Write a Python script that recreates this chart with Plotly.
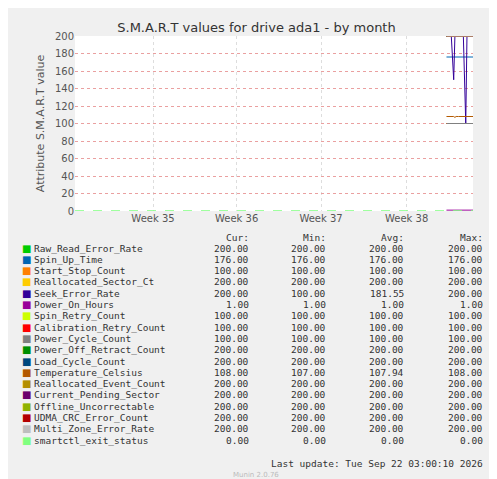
import plotly.graph_objects as go

names = ["Raw_Read_Error_Rate", "Spin_Up_Time", "Start_Stop_Count", "Reallocated_Sector_Ct",
         "Seek_Error_Rate", "Power_On_Hours", "Spin_Retry_Count", "Calibration_Retry_Count",
         "Power_Cycle_Count", "Power_Off_Retract_Count", "Load_Cycle_Count", "Temperature_Celsius",
         "Reallocated_Event_Count", "Current_Pending_Sector", "Offline_Uncorrectable",
         "UDMA_CRC_Error_Count", "Multi_Zone_Error_Rate", "smartctl_exit_status"]
colors = ["#00CC00", "#0066B3", "#FF8000", "#FFCC00", "#330099", "#990099", "#CCFF00", "#FF0000",
          "#808080", "#008F00", "#00487D", "#B35A00", "#B38F00", "#6B006B", "#8FB300", "#B30000",
          "#BEBEBE", "#80FF80"]
cur = [200, 176, 100, 200, 200, 1, 100, 100, 100, 200, 200, 108, 200, 200, 200, 200, 200, 0]
mn = [200, 176, 100, 200, 100, 1, 100, 100, 100, 200, 200, 107, 200, 200, 200, 200, 200, 0]
avg = [200, 176, 100, 200, 181.55, 1, 100, 100, 100, 200, 200, 107.94, 200, 200, 200, 200, 200, 0]
mx = [200, 176, 100, 200, 200, 1, 100, 100, 100, 200, 200, 108, 200, 200, 200, 200, 200, 0]

# time in days since start of the month view; data only in the last ~2 days
t = [30.8, 31.0, 31.2, 31.4, 31.5, 31.6, 31.8, 32.0, 32.2, 32.4, 32.5, 32.6, 32.8, 33.0]
seek = [200, 200, 200, 150, 200, 200, 200, 200, 200, 100, 200, 200, 200, 200]
temp = [108, 108, 108, 108, 107, 108, 108, 108, 108, 108, 108, 108, 108, 108]
full_t = [0, 33.0]

week_pos = [6.47, 13.4, 20.4, 27.5]
week_lbl = ["Week 35", "Week 36", "Week 37", "Week 38"]

fig = go.Figure()
for i, n in enumerate(names):
    if n == "smartctl_exit_status":
        fig.add_trace(go.Scatter(x=full_t, y=[0, 0], mode="lines",
                                 line=dict(color=colors[i], width=1.5, dash="dash")))
        continue
    if n == "Seek_Error_Rate":
        y = seek
    elif n == "Temperature_Celsius":
        y = temp
    else:
        y = [cur[i]] * len(t)
    fig.add_trace(go.Scatter(x=t, y=y, mode="lines", line=dict(color=colors[i], width=1)))

fig.update_layout(
    width=497, height=479, showlegend=False,
    paper_bgcolor="#F0F0F0", plot_bgcolor="white",
    margin=dict(l=67, r=32, t=28, b=276, autoexpand=False),
    font=dict(family="DejaVu Sans", size=10, color="#555555"),
    title=dict(text="S.M.A.R.T values for drive ada1 - by month", x=0.5, y=1 - 19 / 479,
               xref="container", yref="container", xanchor="center", yanchor="middle",
               font=dict(size=13, color="#333333")),
)
fig.update_xaxes(range=[0, 33.0], tickvals=week_pos, ticktext=week_lbl, showgrid=True,
                 gridcolor="#DDDDDD", griddash="dot", zeroline=False, showline=False,
                 ticks="", tickfont=dict(size=10))
fig.update_yaxes(range=[0, 200], dtick=20, showgrid=True, gridcolor="#EAA0A0", griddash="dot",
                 zeroline=False, ticks="", tickfont=dict(size=10),
                 title=dict(text="Attribute S.M.A.R.T value", font=dict(size=11), standoff=8))

mono = dict(family="DejaVu Sans Mono", size=9.5, color="#333333")
row0 = 240
dy = 11.3

def xp(px):
    return (px - 67) / 398

def yp(px):
    return (203 - px) / 175

for lbl, xr in [("Cur:", 243), ("Min:", 320), ("Avg:", 398), ("Max:", 477)]:
    fig.add_annotation(xref="paper", yref="paper", x=xp(xr), y=yp(229), text=lbl,
                       showarrow=False, xanchor="right", yanchor="middle", font=mono)
for i, n in enumerate(names):
    yy = yp(row0 + i * dy)
    fig.add_annotation(xref="paper", yref="paper", x=xp(12), y=yy, text="■",
                       showarrow=False, xanchor="left", yanchor="middle",
                       font=dict(size=10, color=colors[i]))
    fig.add_annotation(xref="paper", yref="paper", x=xp(24), y=yy, text=n,
                       showarrow=False, xanchor="left", yanchor="middle", font=mono)
    for vals, xr in [(cur, 243), (mn, 320), (avg, 398), (mx, 477)]:
        fig.add_annotation(xref="paper", yref="paper", x=xp(xr), y=yy,
                           text=f"{vals[i]:.2f}", showarrow=False, xanchor="right",
                           yanchor="middle", font=mono)

fig.add_annotation(xref="paper", yref="paper", x=xp(477), y=yp(455),
                   text="Last update: Tue Sep 22 03:00:10 2026", showarrow=False,
                   xanchor="right", yanchor="middle", font=mono)
fig.add_annotation(xref="paper", yref="paper", x=xp(248), y=yp(467),
                   text="Munin 2.0.76", showarrow=False, xanchor="center", yanchor="middle",
                   font=dict(size=7, color="#BBBBBB"))
fig.add_annotation(xref="paper", yref="paper", x=xp(487), y=yp(65),
                   text="RRDTOOL / TOBI OETIKER", showarrow=False, textangle=90,
                   xanchor="center", yanchor="middle", font=dict(size=7, color="#BBBBBB"))

fig.write_html("out.html")
